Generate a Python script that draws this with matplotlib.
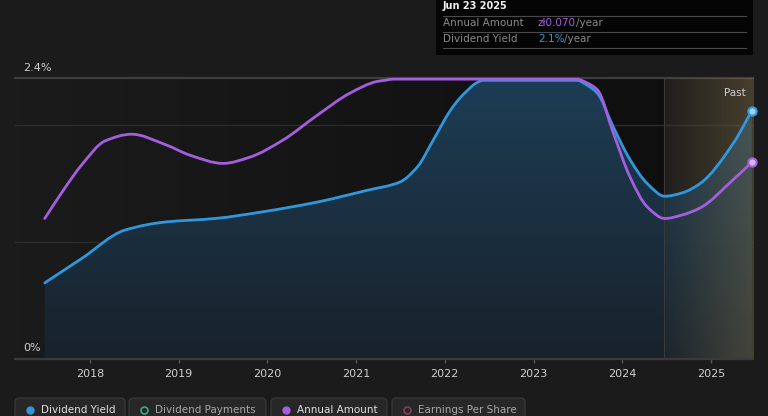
import numpy as np
import matplotlib.pyplot as plt
from matplotlib.colors import LinearSegmentedColormap
from matplotlib.patches import FancyBboxPatch, Rectangle, PathPatch
from matplotlib.path import Path
from matplotlib.lines import Line2D

# Dividend yield (%), x in decimal years
yield_years = [2017.49, 2017.91, 2018.39, 2018.85, 2019.41, 2019.97, 2020.56,
               2021.12, 2021.49, 2021.69, 2021.87, 2022.06, 2022.16, 2022.25, 2022.34, 2022.43,
               2023.49, 2023.60, 2023.72, 2023.90, 2024.09, 2024.28, 2024.48, 2024.68,
               2024.88, 2025.25, 2025.46]
yield_pct = [0.65, 0.86, 1.10, 1.17, 1.20, 1.26, 1.34,
             1.44, 1.51, 1.64, 1.87, 2.12, 2.22, 2.29, 2.35, 2.38,
             2.38, 2.34, 2.27, 1.98, 1.70, 1.50, 1.39, 1.42,
             1.50, 1.84, 2.12]

# Annual dividend amount (zł) on its own scale
amount_years = [2017.49, 2017.72, 2017.91, 2018.17, 2018.47, 2018.85, 2019.13, 2019.50,
                2019.80, 2020.18, 2020.56, 2020.93, 2021.24, 2021.33, 2021.42, 2023.49,
                2023.60, 2023.72, 2023.90, 2024.09, 2024.28, 2024.48, 2024.68, 2024.88,
                2025.25, 2025.46]
amount_pln = [0.0500, 0.0610, 0.0692, 0.0776, 0.0800, 0.0763, 0.0725, 0.0696,
              0.0718, 0.0780, 0.0867, 0.0946, 0.0988, 0.0992, 0.0996, 0.0996,
              0.0983, 0.0958, 0.0804, 0.0646, 0.0542, 0.0500, 0.0513, 0.0538,
              0.0638, 0.0700]

tick_years = [2018, 2019, 2020, 2021, 2022, 2023, 2024, 2025]
past_start = 2024.47
x_lo, x_hi = 2017.155, 2025.474
y_max = 2.4
amount_max = 0.1

legend_items = ["Dividend Yield", "Dividend Payments", "Annual Amount", "Earnings Per Share"]

BG = '#1b1b1b'
BLUE = '#3197dd'
PURPLE = '#a45ee0'
W, H = 768, 416


def fx(x):
    return x / W


def fy(y):
    return 1 - y / H


def smooth_path(xs, ys, close_to=None):
    # monotone cubic (Fritsch-Carlson) drawn as bezier segments through the points
    xs = np.asarray(xs, float)
    ys = np.asarray(ys, float)
    h = np.diff(xs)
    d = np.diff(ys) / h
    m = np.zeros_like(ys)
    m[0], m[-1] = d[0], d[-1]
    for k in range(1, len(xs) - 1):
        if d[k - 1] * d[k] <= 0:
            m[k] = 0
        else:
            w1 = 2 * h[k] + h[k - 1]
            w2 = h[k] + 2 * h[k - 1]
            m[k] = (w1 + w2) / (w1 / d[k - 1] + w2 / d[k])
    verts = [(xs[0], ys[0])]
    codes = [Path.MOVETO]
    for k in range(len(xs) - 1):
        verts += [(xs[k] + h[k] / 3, ys[k] + m[k] * h[k] / 3),
                  (xs[k + 1] - h[k] / 3, ys[k + 1] - m[k + 1] * h[k] / 3),
                  (xs[k + 1], ys[k + 1])]
        codes += [Path.CURVE4] * 3
    if close_to is not None:
        verts += [(xs[-1], close_to), (xs[0], close_to), (xs[0], ys[0])]
        codes += [Path.LINETO, Path.LINETO, Path.CLOSEPOLY]
    return Path(verts, codes)


fig = plt.figure(figsize=(7.68, 4.16), dpi=100, facecolor=BG)
ax = fig.add_axes([fx(15), fy(359), fx(753) - fx(15), fy(78) - fy(359)])
ax.set_facecolor('none')
ax.set_xlim(x_lo, x_hi)
ax.set_ylim(0, y_max)
for s in ax.spines.values():
    s.set_visible(False)

# background darkening towards the "past" line
grad_h = np.linspace(0, 1, 256).reshape(1, -1)
ax.imshow(grad_h, extent=[x_lo, past_start, 0, y_max], aspect='auto',
          cmap=LinearSegmentedColormap.from_list('bgd', [(0, 0, 0, 0.0), (0, 0, 0, 0.45)]),
          zorder=0)

# gridlines
for g in [1.0, 2.0]:
    ax.axhline(g, color='#2c2c2c', lw=1, zorder=1)
ax.axhline(y_max, color='#3e3e3e', lw=1.6, zorder=1, clip_on=False)
ax.axhline(0, color='#3a3a3a', lw=1.6, zorder=5, clip_on=False)

# gradient fill under dividend yield
fill_path = smooth_path(yield_years, yield_pct, close_to=0)
grad_v = np.linspace(1, 0, 256).reshape(-1, 1)
fill_cmap = LinearSegmentedColormap.from_list('fillg', ['#18222b', '#1d3d55'])
im = ax.imshow(grad_v, extent=[x_lo, x_hi, 0, y_max], aspect='auto',
               cmap=fill_cmap, zorder=2)
im.set_clip_path(fill_path, transform=ax.transData)

# "past" region overlay
past_cmap = LinearSegmentedColormap.from_list(
    'past', [(0.78, 0.66, 0.40, 0.03), (0.78, 0.66, 0.40, 0.26)])
ax.imshow(grad_h, extent=[past_start, x_hi, 0, y_max], aspect='auto',
          cmap=past_cmap, zorder=3)
ax.axvline(past_start, color='#3a3a3a', lw=0.8, zorder=3)
ax.text(x_hi - 0.08, 2.27, 'Past', color='#d0d0d0', fontsize=7.5, ha='right', va='center', zorder=6)

# lines
ax.add_patch(PathPatch(smooth_path(yield_years, yield_pct), facecolor='none', edgecolor=BLUE,
                       lw=2, zorder=5, clip_on=False, capstyle='round'))
ax.plot(yield_years[-1], yield_pct[-1], 'o', ms=6, mfc='#9fd2f5', mec=BLUE, mew=1.5,
        zorder=7, clip_on=False)

ax2 = ax.twinx()
ax2.set_ylim(0, amount_max)
ax2.axis('off')
ax2.add_patch(PathPatch(smooth_path(amount_years, amount_pln), facecolor='none', edgecolor=PURPLE,
                        lw=2, zorder=5, clip_on=False, capstyle='round'))
ax2.plot(amount_years[-1], amount_pln[-1], 'o', ms=6, mfc='#d7b4f5', mec=PURPLE, mew=1.5,
         zorder=7, clip_on=False)

# ticks
ax.set_yticks([])
ax.set_xticks(tick_years)
ax.set_xticklabels([str(t) for t in tick_years])
ax.tick_params(axis='x', colors='#555555', length=3, width=1, labelcolor='#cfcfcf',
               labelsize=8, pad=4)
ax.text(fx(23), fy(68), '2.4%', transform=fig.transFigure, color='#cfcfcf', fontsize=8, va='center')
ax.text(fx(23), fy(348), '0%', transform=fig.transFigure, color='#cfcfcf', fontsize=8, va='center')

# tooltip box
fig.add_artist(Rectangle((fx(436), fy(55)), fx(753) - fx(436), fy(0) - fy(55) + 0.01,
                         transform=fig.transFigure, facecolor='#050505', edgecolor='none'))
for ly in [16, 32, 48]:
    fig.add_artist(Line2D([fx(443), fx(746)], [fy(ly), fy(ly)], transform=fig.transFigure,
                          color='#4a4a4a', lw=0.8))
fig.text(fx(443), fy(6), 'Jun 23 2025', color='#f0f0f0', fontsize=7, fontweight='bold', va='center')
fig.text(fx(443), fy(23), 'Annual Amount', color='#8a8a8a', fontsize=7.5, va='center')
fig.text(fx(443), fy(39), 'Dividend Yield', color='#8a8a8a', fontsize=7.5, va='center')
t1 = fig.text(fx(538), fy(23), 'zł0.070', color=PURPLE, fontsize=7.5, va='center')
t2 = fig.text(fx(538), fy(39), '2.1%', color=BLUE, fontsize=7.5, va='center')
fig.canvas.draw()
r = fig.canvas.get_renderer()
for t in (t1, t2):
    bb = t.get_window_extent(renderer=r)
    fig.text(bb.x1 / W, t.get_position()[1], '/year', color='#8a8a8a', fontsize=7.5, va='center')

# legend chips
chips = [(15, 125), (129, 266), (271, 387), (392, 525)]
markers = [('fill', BLUE), ('hollow', '#3aa88a'), ('fill', PURPLE), ('hollow', '#8a3a5a')]
text_colors = ['#e0e0e0', '#a8a8a8', '#e0e0e0', '#a8a8a8']
for (x0, x1), (kind, col), label, tc in zip(chips, markers, legend_items, text_colors):
    fig.add_artist(FancyBboxPatch((fx(x0), fy(422)), fx(x1) - fx(x0), fy(398) - fy(422),
                                  boxstyle='round,pad=0,rounding_size=0.006',
                                  mutation_aspect=W / H, transform=fig.transFigure,
                                  facecolor='#272727', edgecolor='#363636', lw=1))
    if kind == 'fill':
        fig.add_artist(Line2D([fx(x0 + 15)], [fy(410)], marker='o', ms=5, mfc=col, mec=col,
                              transform=fig.transFigure))
    else:
        fig.add_artist(Line2D([fx(x0 + 15)], [fy(410)], marker='o', ms=5, mfc='none', mec=col,
                              mew=1.2, transform=fig.transFigure))
    fig.text(fx(x0 + 26), fy(410), label, color=tc, fontsize=7.5, va='center')

fig.savefig('out.png', dpi=100, facecolor=BG)
